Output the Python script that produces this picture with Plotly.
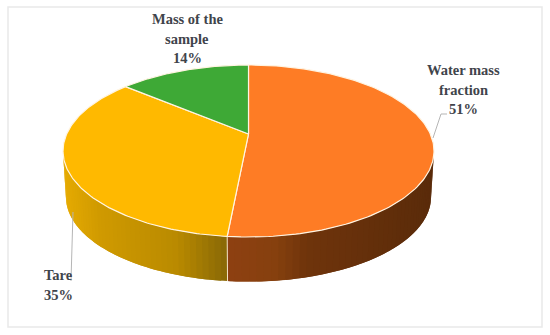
import numpy as np
import plotly.graph_objects as go

slice_names = ["Water mass fraction", "Tare", "Mass of the sample"]
slice_values = [51.5, 34.7, 13.8]
slice_percent = ["51%", "35%", "14%"]
top_colors = ["#FE7C25", "#FFB900", "#3EA936"]
side_stops = [
    [(228, "#8E4012"), (280, "#86400E"), (310, "#6F340B"), (434, "#5A2B0A")],
    [(63, "#E6AB02"), (100, "#D09A00"), (180, "#B98A00"), (228, "#8A6906")],
    [(0, "#2A7A25"), (550, "#2A7A25")],
]
label_lines = [
    ["Water mass", "fraction", "51%"],
    ["Tare", "35%"],
    ["Mass of the", "sample", "14%"],
]
label_x = [463, 42, 187]
label_y = [70, 275, 19]
label_anchor = ["center", "left", "center"]
leader_x = [[433, 441, 447], [73, 72, 71]]
leader_y = [[138, 114, 114], [212, 250, 281]]

# Projection of the tilted disc to the page
CX, CY, RY, RX = 248.5, 151.0, 86.0, 185.5
APEX_LIFT = 17.0
DEPTH, SHRINK = 46.0, 0.984
K = APEX_LIFT / RY
R = RX * np.sqrt(1 - K ** 2)
FRONT_A, FRONT_B = np.arccos(-K), 2 * np.pi - np.arccos(-K)


def project(theta):
    u, v = np.sin(theta), np.cos(theta)
    w = 1 + K * v
    return R * u / w, (RY * v + APEX_LIFT) / w


def top_xy(theta):
    dx, dy = project(theta)
    return CX + dx, CY - dy


def bottom_xy(theta):
    dx, dy = project(theta)
    return CX + dx * SHRINK, CY + DEPTH - dy * SHRINK


def hex_rgb(c):
    return np.array([int(c[i:i + 2], 16) for i in (1, 3, 5)], float)


def side_color(stops, x):
    xs = [s[0] for s in stops]
    cs = np.array([hex_rgb(s[1]) for s in stops])
    rgb = [np.interp(x, xs, cs[:, i]) for i in range(3)]
    return "rgb(%d,%d,%d)" % tuple(int(round(c)) for c in rgb)


fractions = np.array(slice_values) / sum(slice_values)
edges = np.concatenate([[0], np.cumsum(fractions)]) * 2 * np.pi
fig = go.Figure()

# frame
fig.add_shape(type="rect", x0=8, y0=7, x1=542, y1=327, layer="below",
              line=dict(color="#E9E9E9", width=1.5), fillcolor="white")

# side wall: each strip reaches to the end of its slice's next strip, so no seams show
for i in range(3):
    a, b = max(edges[i], FRONT_A), min(edges[i + 1], FRONT_B)
    if a >= b:
        continue
    ts = np.linspace(a, b, 46)
    for n in range(len(ts) - 1):
        sub = np.linspace(ts[n], ts[min(n + 2, len(ts) - 1)], 4)
        tx, ty = top_xy(sub)
        bx, by = bottom_xy(sub)
        col = side_color(side_stops[i], top_xy(np.array([ts[n]]))[0][0])
        fig.add_trace(go.Scatter(
            x=np.concatenate([tx, bx[::-1]]), y=np.concatenate([ty, by[::-1]]),
            mode="none", fill="toself", fillcolor=col,
            hoverinfo="skip", showlegend=False))

# seam on the wall between slices
for e in edges[1:-1]:
    if FRONT_A < e < FRONT_B:
        tx, ty = top_xy(np.array([e]))
        bx, by = bottom_xy(np.array([e]))
        fig.add_trace(go.Scatter(x=[tx[0], bx[0]], y=[ty[0], by[0]], mode="lines",
                                 line=dict(color="#F3E3C8", width=1),
                                 hoverinfo="skip", showlegend=False))

# top face
apex_x, apex_y = CX, CY - APEX_LIFT
for i in range(3):
    ts = np.linspace(edges[i], edges[i + 1], 160)
    x, y = top_xy(ts)
    fig.add_trace(go.Scatter(
        x=np.concatenate([[apex_x], x, [apex_x]]), y=np.concatenate([[apex_y], y, [apex_y]]),
        mode="lines", fill="toself", fillcolor=top_colors[i],
        line=dict(color="#FFF4E2", width=1.2), name=slice_names[i],
        hoverinfo="skip", showlegend=False))

# leaders
for lx, ly in zip(leader_x, leader_y):
    fig.add_trace(go.Scatter(x=lx, y=ly, mode="lines", line=dict(color="#B5B5B5", width=1),
                             hoverinfo="skip", showlegend=False))

# labels
LINE_STEP = 19.6
for lines, x0, y0, anchor in zip(label_lines, label_x, label_y, label_anchor):
    for j, txt in enumerate(lines):
        fig.add_annotation(x=x0, y=y0 + j * LINE_STEP, text="<b>%s</b>" % txt, showarrow=False,
                           xanchor=anchor, yanchor="middle",
                           font=dict(family="Liberation Serif", size=14.5, color="#3F444B"))

fig.update_layout(
    width=550, height=335, margin=dict(l=0, r=0, t=0, b=0),
    paper_bgcolor="white", plot_bgcolor="white", showlegend=False,
    xaxis=dict(range=[0, 550], visible=False, fixedrange=True),
    yaxis=dict(range=[335, 0], visible=False, fixedrange=True),
)
fig.write_html("out.html", config={"displayModeBar": False},
               post_script="document.body.style.margin='0';document.body.style.overflow='hidden';")
